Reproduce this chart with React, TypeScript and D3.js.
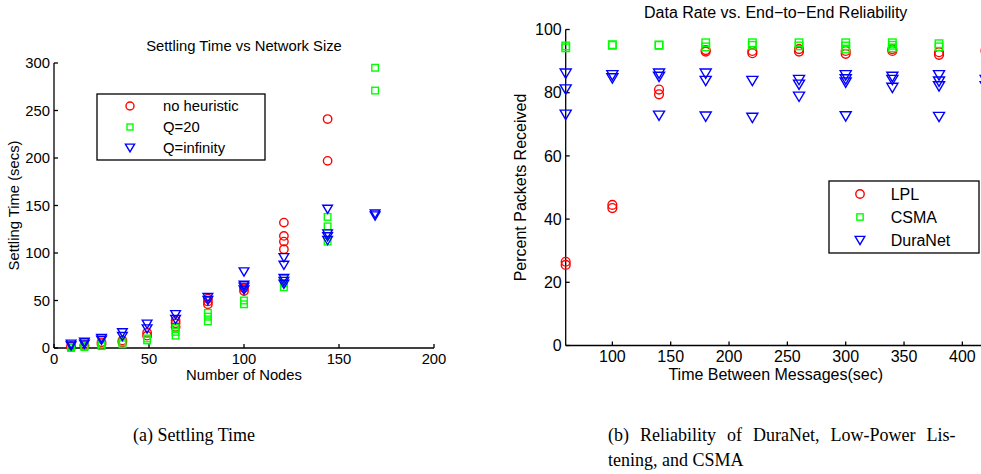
import React from "react";
import * as d3 from "d3";

// ---------- Chart (a): Settling Time vs Network Size ----------
const nodeCounts = [9, 16, 25, 36, 49, 64, 81, 100, 121, 144, 169];
const noHeuristic: number[][] = [
  [1, 2], [2, 3], [4, 6], [6, 8], [13, 16], [22, 26, 29], [46, 49, 52],
  [60, 63], [104, 112, 118, 132], [197, 241], [],
];
const q20: number[][] = [
  [0, 1], [1, 2], [2, 4], [4, 6], [8, 10], [13, 17, 21], [28, 33, 37],
  [46, 50], [64, 68, 73], [112, 128, 138], [271, 295],
];
const qInfinity: number[][] = [
  [2, 4], [4, 6], [8, 10], [12, 16], [20, 25], [30, 35], [50, 53],
  [61, 64, 66, 80], [67, 70, 73, 87, 95], [113, 117, 120, 146], [139, 141],
];
const settleXTicks = [0, 50, 100, 150, 200];
const settleYTicks = [0, 50, 100, 150, 200, 250, 300];
const settleLegend = ["no heuristic", "Q=20", "Q=infinity"];

// ---------- Chart (b): Data Rate vs. End-to-End Reliability ----------
const msgIntervals = [60, 100, 140, 180, 220, 260, 300, 340, 380, 420];
const lpl: number[][] = [
  [25.5, 26.5], [43.5, 44.5], [79.5, 81], [93, 93.5], [92.5, 93.2],
  [93, 93.8], [92.3, 93.2], [93.2, 93.8], [92, 92.8], [93, 93.5],
];
const csma: number[][] = [
  [94.2, 94.8], [95, 95.2], [95, 95.1], [94.5, 95.8], [95, 95.8],
  [94.8, 95.8], [93.8, 94.8, 95.8], [94.2, 95, 95.8], [94.5, 95.5], [95, 95.3],
];
const duranet: number[][] = [
  [86, 81, 73], [85.5, 84.5], [86, 85, 72.7], [86, 83.7, 72.4], [83.7, 72],
  [84, 82.5, 78.7], [85.5, 84.2, 83.2, 72.5], [85, 84, 81.5],
  [85.5, 83.5, 82, 72.3], [84, 82],
];
const rateXTicks = [100, 150, 200, 250, 300, 350, 400];
const rateYTicks = [0, 20, 40, 60, 80, 100];
const rateLegend = ["LPL", "CSMA", "DuraNet"];

const captionA = "(a) Settling Time";
const captionB = ["(b) Reliability of DuraNet, Low-Power Lis-", "tening, and CSMA"];

const RED = "#ff0000";
const GREEN = "#00ff00";
const BLUE = "#0000ff";
const SANS = "'Liberation Sans', Arial, Helvetica, sans-serif";
const SERIF = "'Liberation Serif', 'Times New Roman', serif";

type Kind = "circle" | "square" | "tri";

function Marker({ kind, x, y, s }: { kind: Kind; x: number; y: number; s: number }) {
  const sw = 1.4;
  if (kind === "circle")
    return <circle cx={x} cy={y} r={4 * s} fill="none" stroke={RED} strokeWidth={sw} />;
  if (kind === "square") {
    const h = 3 * s;
    return <rect x={x - h} y={y - h} width={2 * h} height={2 * h} fill="none" stroke={GREEN} strokeWidth={sw} />;
  }
  const w = 4.6 * s;
  const hh = 3.9 * s;
  return (
    <path
      d={`M${x - w},${y - hh}L${x + w},${y - hh}L${x},${y + hh}Z`}
      fill="none"
      stroke={BLUE}
      strokeWidth={sw}
      strokeLinejoin="miter"
    />
  );
}

function Series({ xs, vals, kind, sx, sy, s }: {
  xs: number[]; vals: number[][]; kind: Kind;
  sx: d3.ScaleLinear<number, number>; sy: d3.ScaleLinear<number, number>; s: number;
}) {
  const pts: any[] = [];
  xs.forEach((xv, i) =>
    vals[i].forEach((yv, j) =>
      pts.push(<Marker key={`${i}-${j}`} kind={kind} x={sx(xv)} y={sy(yv)} s={s} />)
    )
  );
  return <g>{pts}</g>;
}

function Axes({ sx, sy, xTicks, yTicks, fs, xLabelY, yLabelX, xLabel, yLabel, title, titleY }: any) {
  const [x0, x1] = sx.range();
  const [y0, y1] = sy.range();
  const tl = 4;
  const cx = (x0 + x1) / 2;
  const cy = (y0 + y1) / 2;
  return (
    <g fontFamily={SANS} fontSize={fs} fill="#000">
      <line x1={x0} x2={x1} y1={y0} y2={y0} stroke="#000" strokeWidth={1.3} />
      <line x1={x0} x2={x0} y1={y0} y2={y1} stroke="#000" strokeWidth={1.3} />
      {xTicks.map((t: number) => (
        <g key={`x${t}`}>
          <line x1={sx(t)} x2={sx(t)} y1={y0} y2={y0 - tl} stroke="#000" strokeWidth={1.3} />
          <text x={sx(t)} y={y0 + 16} textAnchor="middle">{t}</text>
        </g>
      ))}
      {yTicks.map((t: number) => (
        <g key={`y${t}`}>
          <line x1={x0} x2={x0 + tl} y1={sy(t)} y2={sy(t)} stroke="#000" strokeWidth={1.3} />
          <text x={x0 - 4} y={sy(t)} dy="0.35em" textAnchor="end">{t}</text>
        </g>
      ))}
      <text x={cx} y={xLabelY} textAnchor="middle">{xLabel}</text>
      <text transform={`translate(${yLabelX},${cy}) rotate(-90)`} textAnchor="middle">{yLabel}</text>
      <text x={cx} y={titleY} textAnchor="middle">{title}</text>
    </g>
  );
}

function Legend({ x, y, w, h, labels, mx, tx, rows, fs, s }: any) {
  const kinds: Kind[] = ["circle", "square", "tri"];
  return (
    <g>
      <rect x={x} y={y} width={w} height={h} fill="#fff" stroke="#000" strokeWidth={1.3} />
      {labels.map((l: string, i: number) => (
        <g key={l}>
          <Marker kind={kinds[i]} x={mx} y={rows[i]} s={s} />
          <text x={tx} y={rows[i]} dy="0.36em" fontFamily={SANS} fontSize={fs}>{l}</text>
        </g>
      ))}
    </g>
  );
}

export default function App() {
  // chart (a)
  const ax = d3.scaleLinear().domain([0, 200]).range([54, 434]);
  const ay = d3.scaleLinear().domain([0, 300]).range([348, 63]);
  // chart (b)
  const bx = d3.scaleLinear().domain([60, 420]).range([565.7, 985.7]);
  const by = d3.scaleLinear().domain([0, 100]).range([345.5, 29.5]);

  return (
    <svg
      width={981}
      height={474}
      style={{ position: "absolute", left: 0, top: 0, background: "#fff" }}
    >
      <rect width={981} height={474} fill="#fff" />
      {/* (a) */}
      <Axes
        sx={ax} sy={ay} xTicks={settleXTicks} yTicks={settleYTicks} fs={14.8}
        xLabelY={379.5} yLabelX={18.5} xLabel="Number of Nodes" yLabel="Settling Time (secs)"
        title="Settling Time vs Network Size" titleY={50.5}
      />
      <Series xs={nodeCounts} vals={noHeuristic} kind="circle" sx={ax} sy={ay} s={1.05} />
      <Series xs={nodeCounts} vals={q20} kind="square" sx={ax} sy={ay} s={1.1} />
      <Series xs={nodeCounts} vals={qInfinity} kind="tri" sx={ax} sy={ay} s={1.05} />
      <Legend
        x={97} y={94} w={168} h={66} labels={settleLegend} mx={130} tx={163}
        rows={[106, 127, 148]} fs={14.8} s={1}
      />
      {/* (b) */}
      <Axes
        sx={bx} sy={by} xTicks={rateXTicks} yTicks={rateYTicks} fs={16}
        xLabelY={379.5} yLabelX={526} xLabel="Time Between Messages(sec)" yLabel="Percent Packets Received"
        title="Data Rate vs. End−to−End Reliability" titleY={18.3}
      />
      <Series xs={msgIntervals} vals={lpl} kind="circle" sx={bx} sy={by} s={1.1} />
      <Series xs={msgIntervals} vals={csma} kind="square" sx={bx} sy={by} s={1.25} />
      <Series xs={msgIntervals} vals={duranet} kind="tri" sx={bx} sy={by} s={1.2} />
      <Legend
        x={829} y={181} w={150} h={72} labels={rateLegend} mx={860} tx={890.7}
        rows={[194, 217, 240.5]} fs={16} s={1.05}
      />
      {/* captions */}
      <g fontFamily={SERIF} fontSize={18}>
        <text x={133} y={441}>{captionA}</text>
        <text x={608} y={441} style={{ wordSpacing: "6.5px" }}>{captionB[0]}</text>
        <text x={608} y={466}>{captionB[1]}</text>
      </g>
    </svg>
  );
}
